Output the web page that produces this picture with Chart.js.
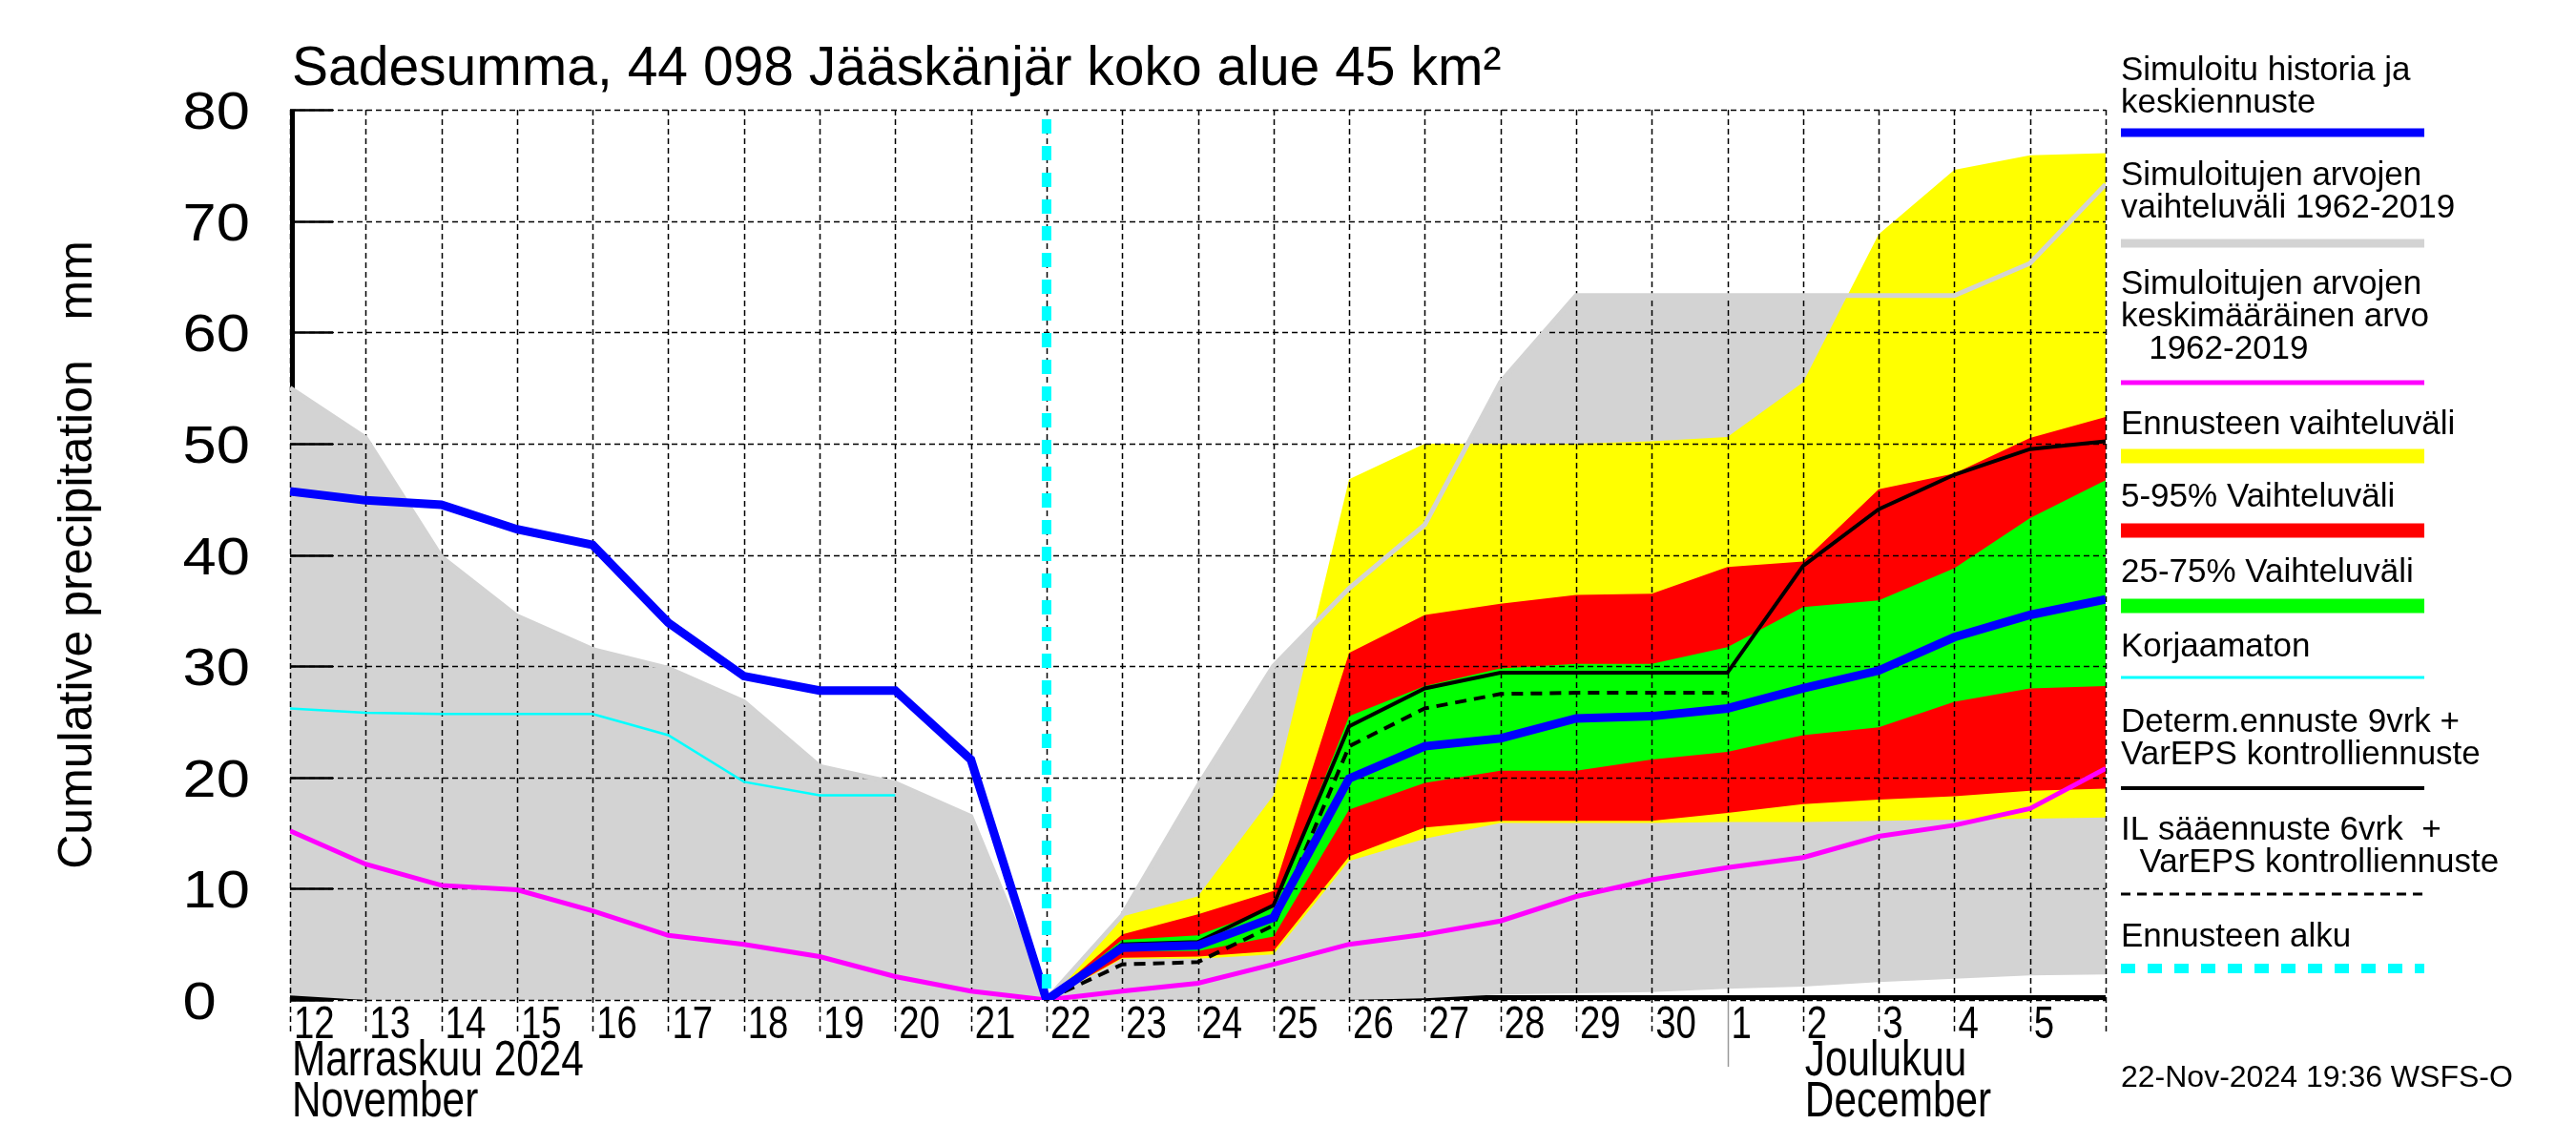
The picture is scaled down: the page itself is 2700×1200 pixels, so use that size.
<!DOCTYPE html>
<html lang="fi">
<head>
<meta charset="UTF-8">
<title>Sadesumma, 44 098 Jääskänjär koko alue 45 km²</title>
<script src="https://cdn.jsdelivr.net/npm/chart.js@4"></script>
<style>
    html, body { margin: 0; padding: 0; background: #fff; }
    #wrap { width: 2700px; height: 1200px; }
</style>
</head>
<body>
<div id="wrap"><canvas id="chart" width="2700" height="1200"></canvas></div>
<script>
// x = days since 12 Nov 2024 00:00, one value per day boundary (index 0..24)
const dayLabels = ['12', '13', '14', '15', '16', '17', '18', '19', '20', '21', '22', '23',
                   '24', '25', '26', '27', '28', '29', '30', '1', '2', '3', '4', '5'];
const yTicks = [0, 10, 20, 30, 40, 50, 60, 70, 80];
const forecastStart = 10;   // 22 Nov
const monthStartDec = 19;   // 1 Dec

// simulated history + mean forecast (blue)
const simMean   = [45.7, 44.9, 44.5, 42.3, 40.9, 33.9, 29.1, 27.8, 27.8, 21.6, 0,
                   4.7, 4.9, 7.4, 19.9, 22.8, 23.5, 25.3, 25.5, 26.2, 28.0, 29.6, 32.6, 34.6, 36.0];
// uncorrected (cyan)
const uncorrected = [26.2, 25.8, 25.7, 25.7, 25.7, 23.8, 19.6, 18.4, 18.4, null, null,
                   null, null, null, null, null, null, null, null, null, null, null, null, null, null];
// climatological mean 1962-2019 (magenta)
const climMean  = [15.2, 12.2, 10.3, 9.9, 8.0, 5.8, 5.0, 3.9, 2.1, 0.8, 0,
                   0.8, 1.5, 3.2, 5.0, 5.9, 7.1, 9.3, 10.8, 11.9, 12.8, 14.7, 15.7, 17.2, 20.8];
// climatological range 1962-2019 (grey)
const climMax   = [55, 50.5, 39.8, 34.5, 31.5, 29.8, 26.8, 21.0, 19.5, 16.5, 0,
                   7.6, 19.2, 30.0, 37.0, 42.7, 55.5, 63.3, 63.3, 63.3, 63.3, 63.3, 63.3, 66.2, 73.3];
const climMin   = [0.4, 0, 0, 0, 0, 0, 0, 0, 0, 0, 0,
                   0, 0, 0, 0, 0.15, 0.5, 0.6, 0.7, 1.0, 1.2, 1.6, 1.9, 2.2, 2.3];
// forecast ranges
const ensMax    = [null, null, null, null, null, null, null, null, null, null, 0,
                   7.5, 9.3, 18.4, 46.8, 50.0, 50.0, 50.0, 50.2, 50.6, 55.5, 68.8, 74.6, 75.9, 76.1];
const ensMin    = [null, null, null, null, null, null, null, null, null, null, 0,
                   3.7, 3.7, 4.1, 12.5, 14.5, 15.9, 15.9, 15.9, 16.0, 16.0, 16.1, 16.2, 16.3, 16.4];
const p95       = [null, null, null, null, null, null, null, null, null, null, 0,
                   5.9, 7.7, 9.8, 31.2, 34.6, 35.6, 36.4, 36.5, 38.9, 39.4, 45.9, 47.3, 50.5, 52.4];
const p05       = [null, null, null, null, null, null, null, null, null, null, 0,
                   3.8, 3.9, 4.4, 12.9, 15.5, 16.1, 16.1, 16.1, 16.8, 17.6, 18.0, 18.3, 18.8, 19.0];
const p75       = [null, null, null, null, null, null, null, null, null, null, 0,
                   5.4, 5.8, 8.3, 25.5, 28.2, 29.8, 30.2, 30.2, 31.7, 35.3, 35.9, 38.8, 43.3, 46.7];
const p25       = [null, null, null, null, null, null, null, null, null, null, 0,
                   4.4, 4.4, 5.7, 17.1, 19.5, 20.6, 20.6, 21.6, 22.3, 23.8, 24.5, 26.8, 28.0, 28.2];
// deterministic 9 d + VarEPS control (black) and IL 6 d + VarEPS control (dashed)
const determ    = [null, null, null, null, null, null, null, null, null, null, 0,
                   5.0, 5.2, 8.5, 24.6, 28.0, 29.4, 29.4, 29.4, 29.4, 39.0, 44.1, 47.2, 49.5, 50.2];
const ilFcst    = [null, null, null, null, null, null, null, null, null, null, 0,
                   3.2, 3.4, 6.7, 22.8, 26.2, 27.5, 27.6, 27.6, 27.6, null, null, null, null, null];

const titleText = 'Sadesumma, 44 098 Jääskänjär koko alue 45 km²';
const stamp = '22-Nov-2024 19:36 WSFS-O';

const legendItems = [
    { lines: ['Simuloitu historia ja', 'keskiennuste'], color: '#0000ff', width: 9, y: 74, sy: 139 },
    { lines: ['Simuloitujen arvojen', 'vaihteluväli 1962-2019'], color: '#d3d3d3', width: 9, y: 184, sy: 255 },
    { lines: ['Simuloitujen arvojen', 'keskimääräinen arvo', '   1962-2019'], color: '#ff00ff', width: 5, y: 298, sy: 401 },
    { lines: ['Ennusteen vaihteluväli'], color: '#ffff00', width: 15, y: 445, sy: 478 },
    { lines: ['5-95% Vaihteluväli'], color: '#ff0000', width: 15, y: 521, sy: 556 },
    { lines: ['25-75% Vaihteluväli'], color: '#00ff00', width: 15, y: 600, sy: 635 },
    { lines: ['Korjaamaton'], color: '#00ffff', width: 3, y: 678, sy: 710 },
    { lines: ['Determ.ennuste 9vrk +', 'VarEPS kontrolliennuste'], color: '#000000', width: 4, y: 757, sy: 826 },
    { lines: ['IL sääennuste 6vrk  +', '  VarEPS kontrolliennuste'], color: '#000000', width: 3, dash: [10, 7], y: 870, sy: 937 },
    { lines: ['Ennusteen alku'], color: '#00ffff', width: 10, dash: [15, 13], y: 982, sy: 1015 }
];

const FONT = "'Liberation Sans', Arial, sans-serif";

const pts = arr => arr.map((v, i) => ({ x: i, y: v })).filter(p => p.y !== null);

function lineSet(label, data, color, width, order, extra) {
    return Object.assign({
        label, data: pts(data), borderColor: color, borderWidth: width,
        pointRadius: 0, fill: false, order, tension: 0
    }, extra || {});
}
function bandEdge(label, data, order, color, target) {
    return {
        label, data: pts(data), borderWidth: 0, borderColor: 'rgba(0,0,0,0)',
        backgroundColor: color || 'rgba(0,0,0,0)', pointRadius: 0, order,
        fill: target === undefined ? false : target
    };
}

const GRID_AFTER = 5; // grid is drawn just before this dataset (the grey line)

const datasets = [
    lineSet('Simuloitu historia ja keskiennuste', simMean, '#0000ff', 9, 0),
    lineSet('Determ.ennuste 9vrk + VarEPS kontrolliennuste', determ, '#000000', 4, 1),
    lineSet('IL sääennuste 6vrk + VarEPS kontrolliennuste', ilFcst, '#000000', 4, 2, { borderDash: [12, 8] }),
    lineSet('Korjaamaton', uncorrected, '#00ffff', 2.5, 3),
    lineSet('Simuloitujen arvojen keskimääräinen arvo', climMean, '#ff00ff', 5, 4),
    lineSet('Simuloitujen arvojen vaihteluväli', climMax, '#d3d3d3', 5, 5),
    bandEdge('25-75%', p75, 6, '#00ff00', 7),
    bandEdge('25%', p25, 7),
    bandEdge('5-95%', p95, 8, '#ff0000', 9),
    bandEdge('5%', p05, 9),
    bandEdge('Ennusteen vaihteluväli', ensMax, 10, '#ffff00', 11),
    bandEdge('ens min', ensMin, 11),
    bandEdge('clim range', climMax, 12, '#d3d3d3', 13),
    bandEdge('clim min', climMin, 13)
];

// text squeezed / stretched horizontally (the original uses Helvetica Narrow on the time axis)
function scaledText(ctx, text, x, y, sx) {
    ctx.save();
    ctx.translate(x, y);
    ctx.scale(sx, 1);
    ctx.fillText(text, 0, 0);
    ctx.restore();
}

function drawGrid(chart) {
    const { ctx, chartArea: a, scales: { x, y } } = chart;
    ctx.save();
    ctx.strokeStyle = '#000';
    ctx.lineWidth = 1.5;
    ctx.setLineDash([6, 4]);
    ctx.beginPath();
    for (let d = 0; d <= dayLabels.length; d++) {
        const px = Math.round(x.getPixelForValue(d)) + 0.5;
        ctx.moveTo(px, a.top);
        ctx.lineTo(px, a.bottom + (d === monthStartDec ? 0 : 34));
    }
    yTicks.forEach(v => {
        const py = Math.round(y.getPixelForValue(v)) + 0.5;
        ctx.moveTo(a.left, py);
        ctx.lineTo(a.right, py);
    });
    ctx.stroke();
    // inner tick marks on the y axis
    ctx.setLineDash([]);
    ctx.lineWidth = 2.5;
    ctx.beginPath();
    yTicks.forEach(v => {
        const py = Math.round(y.getPixelForValue(v)) + 0.5;
        ctx.moveTo(a.left, py);
        ctx.lineTo(a.left + 45, py);
    });
    ctx.stroke();
    ctx.restore();
}

const decoPlugin = {
    id: 'deco',
    beforeDatasetsDraw(chart) {
        const { ctx, chartArea: a } = chart;
        ctx.save();
        ctx.fillStyle = '#000';
        ctx.fillRect(a.left, a.top, 5, a.bottom - a.top);      // left axis
        ctx.fillRect(a.left, a.bottom - 5, a.right - a.left, 5); // bottom axis
        ctx.restore();
    },
    beforeDatasetDraw(chart, args) {
        if (args.index === GRID_AFTER) drawGrid(chart);
    },
    afterDatasetsDraw(chart) {
        const { ctx, chartArea: a, scales: { x } } = chart;
        ctx.save();
        // forecast start
        const fx = x.getPixelForValue(forecastStart);
        ctx.strokeStyle = '#00ffff';
        ctx.lineWidth = 10;
        ctx.setLineDash([15, 13]);
        ctx.beginPath();
        ctx.moveTo(fx, a.top + 10);
        ctx.lineTo(fx, a.bottom);
        ctx.stroke();
        // month separator below axis
        const mx = Math.round(x.getPixelForValue(monthStartDec)) + 0.5;
        ctx.setLineDash([]);
        ctx.strokeStyle = '#999';
        ctx.lineWidth = 1.5;
        ctx.beginPath();
        ctx.moveTo(mx, a.bottom);
        ctx.lineTo(mx, a.bottom + 70);
        ctx.stroke();
        ctx.restore();
    },
    afterDraw(chart) {
        const { ctx, chartArea: a, scales: { x, y } } = chart;
        ctx.save();
        ctx.fillStyle = '#000';
        ctx.textBaseline = 'alphabetic';
        ctx.textAlign = 'left';
        ctx.font = '57px ' + FONT;
        ctx.fillText(titleText, a.left + 2, 89);

        // time axis labels
        ctx.font = '48px ' + FONT;
        dayLabels.forEach((t, i) => scaledText(ctx, t, x.getPixelForValue(i) + 4, 1088, 0.8));
        ctx.font = '51px ' + FONT;
        scaledText(ctx, 'Marraskuu 2024', a.left + 2, 1127, 0.83);
        scaledText(ctx, 'November', a.left + 2, 1170, 0.83);
        const jx = x.getPixelForValue(monthStartDec + 1) + 2;
        scaledText(ctx, 'Joulukuu', jx, 1127, 0.83);
        scaledText(ctx, 'December', jx, 1170, 0.83);

        // value axis labels (left aligned, as in the original)
        ctx.font = '56px ' + FONT;
        const yx = 262 - ctx.measureText('80').width * 1.13;
        yTicks.forEach(v => scaledText(ctx, String(v), yx, y.getPixelForValue(v) + 20, 1.13));

        // legend
        const lx = 2223, lw = 318;
        ctx.font = '35px ' + FONT;
        ctx.textBaseline = 'middle';
        legendItems.forEach(it => {
            it.lines.forEach((t, k) => ctx.fillText(t, lx, it.y + k * 34));
            ctx.strokeStyle = it.color;
            ctx.lineWidth = it.width;
            ctx.setLineDash(it.dash || []);
            ctx.beginPath();
            ctx.moveTo(lx, it.sy);
            ctx.lineTo(lx + lw, it.sy);
            ctx.stroke();
        });
        ctx.setLineDash([]);
        ctx.textBaseline = 'alphabetic';
        ctx.font = '32px ' + FONT;
        ctx.fillText(stamp, lx, 1139);
        ctx.restore();
    }
};

new Chart(document.getElementById('chart'), {
    type: 'line',
    data: { datasets },
    plugins: [decoPlugin],
    options: {
        responsive: false,
        animation: false,
        devicePixelRatio: 1,
        events: [],
        layout: { padding: { left: 0, top: 115, right: 493, bottom: 0 } },
        plugins: { legend: { display: false }, tooltip: { enabled: false }, title: { display: false } },
        scales: {
            x: {
                type: 'linear', min: 0, max: dayLabels.length,
                grid: { display: false }, border: { display: false },
                afterBuildTicks: s => { s.ticks = dayLabels.map((_, i) => ({ value: i })); },
                afterFit: s => { s.height = 152; },
                ticks: { display: false }
            },
            y: {
                type: 'linear', min: 0, max: 80,
                grid: { display: false, drawTicks: false }, border: { display: false },
                afterBuildTicks: s => { s.ticks = yTicks.map(v => ({ value: v })); },
                afterFit: s => { s.width = 304; },
                ticks: { display: false },
                title: {
                    display: true, text: 'Cumulative precipitation   mm', color: '#000',
                    font: { family: FONT, size: 50 }, padding: { top: 52, bottom: 0 }
                }
            }
        }
    }
});
</script>
</body>
</html>
